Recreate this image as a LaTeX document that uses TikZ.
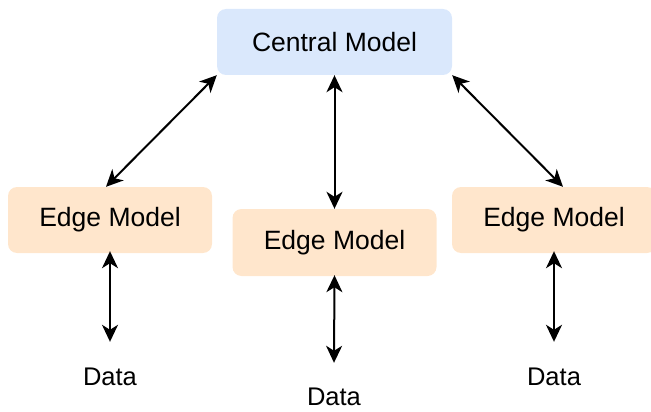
\documentclass[tikz,border=0pt]{standalone}
\usepackage{fontspec}
\setmainfont{Liberation Sans}
\usetikzlibrary{arrows.meta}
\definecolor{cblue}{HTML}{DAE8FC}
\definecolor{corange}{HTML}{FFE6CC}
\tikzset{
  central/.style={rectangle, rounded corners=9pt, fill=cblue, draw=none, minimum width=235pt, minimum height=66pt, inner sep=0pt, font=\fontsize{26.5}{30}\selectfont},
  edgebox/.style={rectangle, rounded corners=9pt, fill=corange, draw=none, minimum width=204pt, minimum height=66pt, inner sep=0pt, font=\fontsize{26.5}{30}\selectfont},
  datalabel/.style={inner sep=0pt, font=\fontsize{25.5}{30}\selectfont},
  tipstyle/.style={},
  link/.style={line width=2pt, {Stealth[length=17pt,width=16pt,inset=5pt]}-{Stealth[length=17pt,width=16pt,inset=5pt]}}
}
\begin{document}
\begin{tikzpicture}[x=1pt,y=-1pt]
\useasboundingbox (0,0) rectangle (651,412);
\node[central] (c) at (334.5,42) {Central Model};
\node[edgebox] (eL) at (110,220) {Edge Model};
\node[edgebox, minimum height=67pt] (eM) at (334.5,242.5) {Edge Model};
\node[edgebox] (eR) at (554,220) {Edge Model};
\node[datalabel, minimum height=70pt] (dL) at (110,377) {Data};
\node[datalabel, minimum height=68pt] (dM) at (334,397) {Data};
\node[datalabel, minimum height=70pt] (dR) at (554,377) {Data};
\draw[link] (c.south west) -- ([xshift=-4pt]eL.north);
\draw[link] (c.south) -- (eM.north);
\draw[link] (c.south east) -- ([xshift=9pt]eR.north);
\draw[link] ([yshift=2pt]eL.south) -- (dL.north);
\draw[link] ([yshift=1pt]eM.south) -- (dM.north);
\draw[link] ([yshift=2pt]eR.south) -- (dR.north);
\end{tikzpicture}
\end{document}
